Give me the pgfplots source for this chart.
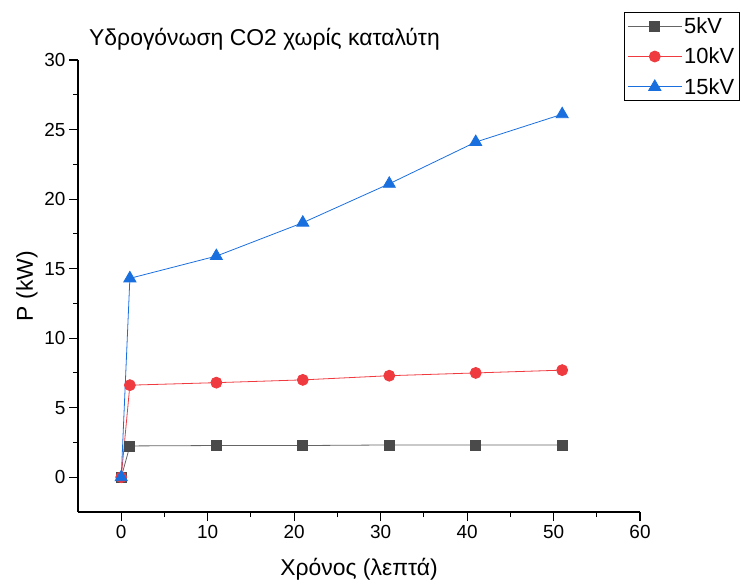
\documentclass[border=0pt]{standalone}
\usepackage{fontspec}
\setmainfont{Liberation Sans}
\usepackage{pgfplots}
\pgfplotsset{compat=1.18}
\definecolor{GRY}{HTML}{4A4A4A}
\definecolor{RED}{HTML}{EF3A3F}
\definecolor{BLU}{HTML}{1A6FDF}

\begin{document}
\begin{tikzpicture}
\begin{axis}[
  scale only axis,
  width=562bp, height=452bp,
  xmin=-5, xmax=60, ymin=-2.5, ymax=30,
  xtick={0,10,...,60}, ytick={0,5,...,30},
  minor x tick num=1, minor y tick num=1,
  axis lines=left,
  axis line style={-, line width=1.2bp, black},
  tick align=outside,
  major tick length=9bp, minor tick length=5bp,
  every tick/.style={black, line width=1.1bp},
  tick label style={font=\fontsize{19}{22}\selectfont},
  xticklabel style={yshift=-1bp},
  /pgf/number format/assume math mode=true,
  xlabel={Χρόνος (λεπτά)},
  ylabel={P (kW)},
  label style={font=\fontsize{23}{27}\selectfont},
  xlabel style={yshift=-12bp},
  ylabel style={yshift=0bp},
  legend style={at={(0.9715,1.106)}, anchor=north west, draw=black,
    line width=0.8bp, font=\fontsize{22}{25}\selectfont,
    inner sep=3bp, row sep=9bp, cells={anchor=west}},
  legend image code/.code={\draw[mark repeat=2,mark phase=2]
    plot coordinates {(0bp,0bp) (27bp,0bp) (54bp,0bp)};},
  clip=false,
]
\addplot[GRY!85, line width=0.8bp, mark=square*, mark size=5bp,
  mark options={fill=GRY, draw=GRY}] coordinates {
  (0,0) (1,2.25) (11,2.28) (21,2.28) (31,2.32) (41,2.32) (51,2.32)
};
\addlegendentry{5kV}
\addplot[RED, line width=0.8bp, mark=*, mark size=5.5bp,
  mark options={fill=RED, draw=RED}] coordinates {
  (0,0) (1,6.62) (11,6.8) (21,7.0) (31,7.3) (41,7.5) (51,7.7)
};
\addlegendentry{10kV}
\addplot[BLU, line width=0.8bp, mark=triangle*, mark size=7bp,
  mark options={fill=BLU, draw=BLU}] coordinates {
  (0,0) (1,14.3) (11,15.9) (21,18.3) (31,21.1) (41,24.1) (51,26.1)
};
\addlegendentry{15kV}
\node[anchor=base west, inner sep=0pt, font=\fontsize{23}{27}\selectfont]
  at ([shift={(11bp,14bp)}]current axis.north west) {Υδρογόνωση CO2 χωρίς καταλύτη};
\end{axis}
\pgfresetboundingbox
\useasboundingbox ([shift={(-78bp,-72bp)}]current axis.south west)
  rectangle ([shift={(101bp,60bp)}]current axis.north east);
\end{tikzpicture}
\end{document}
